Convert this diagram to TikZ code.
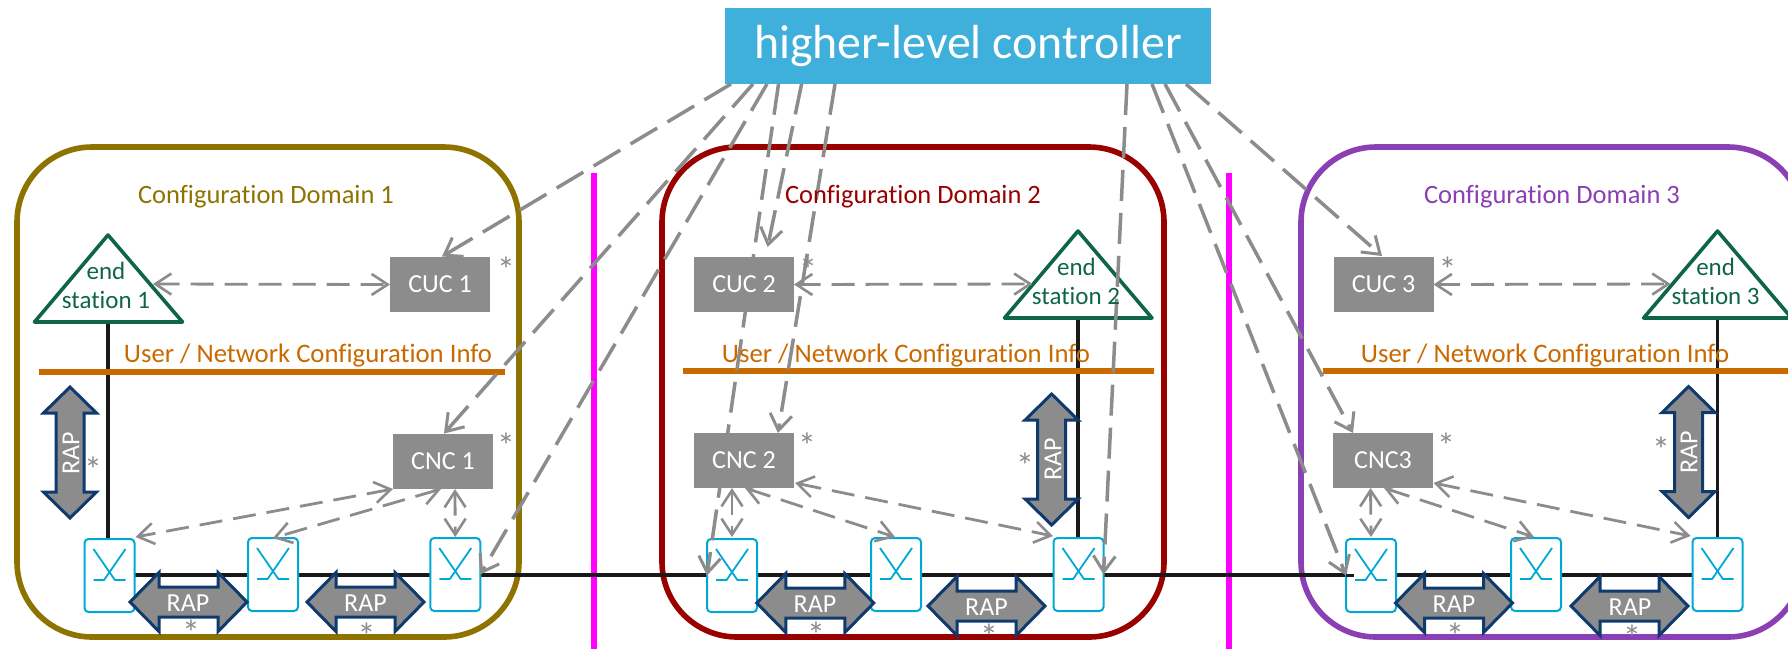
\documentclass[tikz,border=0pt]{standalone}
\usepackage{fontspec}
\setmainfont{Carlito}[Ligatures=NoCommon]
\usetikzlibrary{arrows.meta,calc}
\definecolor{cOlive}{HTML}{8F7300}
\definecolor{cRed}{HTML}{990000}
\definecolor{cPurple}{HTML}{8A3FB5}
\definecolor{cOrange}{HTML}{C96A00}
\definecolor{cGreen}{HTML}{0E6647}
\definecolor{cCyan}{HTML}{00A8D6}
\definecolor{cNavy}{HTML}{0F3A6E}
\definecolor{cGray}{HTML}{8C8C8C}
\definecolor{cBlue}{HTML}{3FAFDB}
\definecolor{cMagenta}{HTML}{FF00FF}
\newcommand{\fs}[1]{\fontsize{#1}{#1}\selectfont}
\tikzset{
  domframe/.style={line width=5.6pt,rounded corners=75pt},
  sepline/.style={cMagenta,line width=5.5pt},
  wire/.style={black!90,line width=3.5pt},
  orangebar/.style={cOrange,line width=6pt},
  station/.style={cGreen,line width=3.6pt,line join=round,fill=white},
  sttext/.style={cGreen,font=\fs{25},align=center,inner sep=0pt},
  swnode/.style={draw=cCyan,line width=2pt,fill=white,rounded corners=4pt,minimum width=50pt,minimum height=73pt,inner sep=0pt,outer sep=0pt},
  swline/.style={cCyan,line width=1.8pt},
  graybox/.style={fill=cGray,text=white,font=\fs{26},minimum width=100pt,minimum height=55pt,inner sep=0pt,outer sep=0pt},
  raparrow/.style={fill=cGray,draw=cNavy,line width=3pt,line join=miter},
  raptext/.style={text=white,font=\fs{26},inner sep=0pt},
  aster/.style={text=cGray,font=\fs{36},inner sep=0pt},
  longlink/.style={cGray,line width=3.5pt,dash pattern=on 31pt off 12pt,-{Straight Barb[length=16pt,width=22pt,line width=3pt]}},
  duallink/.style={cGray,line width=2.8pt,dash pattern=on 23pt off 11pt,{Straight Barb[length=16pt,width=21pt,line width=2.6pt]}-{Straight Barb[length=16pt,width=21pt,line width=2.6pt]}},
  domtext/.style={font=\fs{26.5},inner sep=0pt},
  infotext/.style={cOrange,font=\fs{26.7},inner sep=0pt},
}
% switch: name, centre x, centre y
\newcommand{\swbox}[3]{%
  \node[swnode] (#1) at (#2,#3) {};
  \draw[swline] ($(#1.north)+(-16,10)$) -- ($(#1.north)+(5.4,41)$) -- ($(#1.north)+(16,41)$);
  \draw[swline] ($(#1.north)+(16,10)$) -- ($(#1.north)+(-5.4,41)$) -- ($(#1.north)+(-16,41)$);
}
% RAP double arrow: cx, cy, rotation, half length, head length, head half width, shaft half width
\newcommand{\rapshape}[7]{%
  \draw[raparrow,shift={(#1,#2)},rotate=#3]
    (-#4,0) -- ({-#4+#5},-#6) -- ({-#4+#5},-#7) -- ({#4-#5},-#7) -- ({#4-#5},-#6) -- (#4,0)
    -- ({#4-#5},#6) -- ({#4-#5},#7) -- ({-#4+#5},#7) -- ({-#4+#5},#6) -- cycle;
}
\newcommand{\hrap}[2]{\rapshape{#1}{#2}{0}{58.5}{29}{29.5}{15}}
\newcommand{\vrap}[2]{\rapshape{#1}{#2}{90}{65.5}{26}{26.5}{14}}
\begin{document}
\begin{tikzpicture}[x=1pt,y=-1pt]
\useasboundingbox (0,0) rectangle (1788,649);
\clip (0,0) rectangle (1788,649);
\fill[white] (0,0) rectangle (1788,649);
% domains
\draw[domframe,cOlive] (17,147) rectangle (519,637);
\draw[domframe,cRed] (662,147) rectangle (1164,637);
\draw[domframe,cPurple] (1301,147) rectangle (1803,637);
% separators
\draw[sepline] (594,173) -- (594,649);
\draw[sepline] (1229,173) -- (1229,649);
% triangles' apex and base
\coordinate (t1a) at (108,235); \coordinate (t1l) at (34.5,322); \coordinate (t1r) at (182.5,322);
\coordinate (t2a) at (1078,231); \coordinate (t2l) at (1004.5,318); \coordinate (t2r) at (1152,318);
\coordinate (t3a) at (1717.5,231); \coordinate (t3l) at (1643.6,318); \coordinate (t3r) at (1791.5,318);
\coordinate (wirestart) at (109.5,575);
\coordinate (wireend) at (1717.5,575);
% wires
\draw[wire] (t1a |- t1l) -- (108,539);
\draw[wire] (t2a |- t2l) -- (1078,538);
\draw[wire] (t3a |- t3l) -- (1717.5,538);
\draw[wire] (wirestart) -- (wireend);
% orange bars
\draw[orangebar] (39,372) -- (505,372);
\draw[orangebar] (683,371) -- (1154,371);
\draw[orangebar] (1322.6,371) -- (1788,371);
% triangles
\draw[station] (t1a) -- (t1l) -- (t1r) -- cycle;
\draw[station] (t2a) -- (t2l) -- (t2r) -- cycle;
\draw[station] (t3a) -- (t3l) -- (t3r) -- cycle;
% switches
\swbox{sw11}{109.5}{575.5}
\swbox{sw12}{273}{574.5}
\swbox{sw13}{455.25}{574.5}
\swbox{sw21}{732}{575.5}
\swbox{sw22}{896}{574.5}
\swbox{sw23}{1078.5}{574.5}
\swbox{sw31}{1371}{575.5}
\swbox{sw32}{1536}{574.5}
\swbox{sw33}{1717.5}{574.5}
\draw[wire] (sw31.west) -- +(8,0);
% controller
\node[fill=cBlue,text=white,font=\fs{47.8},minimum width=486pt,minimum height=76pt,inner sep=0pt,outer sep=0pt] (hlc) at (968,46) {\raisebox{-2pt}{higher-level controller}};
% positions of the gray boxes, which are drawn after the links
\coordinate (cuc1pos) at (440,284.5); \coordinate (cnc1pos) at (443,461.5);
\coordinate (cuc2pos) at (744,284.5); \coordinate (cnc2pos) at (744,460.5);
\coordinate (cuc3pos) at (1383.5,284.5); \coordinate (cnc3pos) at (1383,460.5);
% long links
\draw[longlink] ($(hlc.south west)+(6,0)$) -- ($(cuc1pos)+(2,-28)$);
\draw[longlink] ($(hlc.south west)+(28,0)$) -- ($(cnc1pos)+(1,-28)$);
\draw[longlink] ($(hlc.south west)+(42,0)$) -- (sw13.east);
\draw[longlink] ($(hlc.south west)+(53.5,0)$) -- (sw21.west);
\draw[longlink] ($(hlc.south west)+(76.6,0)$) -- ($(cuc2pos)+(23.6,-37.5)$);
\draw[longlink] ($(hlc.south west)+(110,0)$) -- ($(cnc2pos)+(34,-27.5)$);
\draw[longlink] ($(hlc.south east)+(-84,0)$) -- (sw23.east);
\draw[longlink] ($(hlc.south east)+(-59,0)$) -- (sw31.west);
\draw[longlink] ($(hlc.south east)+(-46,0)$) -- ($(cnc3pos)+(-30,-27.5)$);
\draw[longlink] ($(hlc.south east)+(-25,0)$) -- ($(cuc3pos)+(-1.5,-28.5)$);
% gray boxes
\node[graybox] (cuc1) at (cuc1pos) {CUC 1};
\node[graybox] (cnc1) at (cnc1pos) {CNC 1};
\node[graybox] (cuc2) at (cuc2pos) {CUC 2};
\node[graybox] (cnc2) at (cnc2pos) {CNC 2};
\node[graybox] (cuc3) at (cuc3pos) {CUC 3};
\node[graybox] (cnc3) at (cnc3pos) {CNC3};
% dual links
\coordinate (t1p) at (153,284); \coordinate (t2p) at (1032.5,284); \coordinate (t3p) at (1670.6,284);
\draw[duallink] (t1p) -- (cuc1.west);
\draw[duallink] (cuc2.east) -- (t2p);
\draw[duallink] (cuc3.east) -- (t3p);
\draw[duallink] (cnc1.south west) -- ($(sw11.north east)+(1,-2)$);
\draw[duallink] ($(cnc1.south)+(-2,0)$) -- (sw12.north);
\draw[duallink] ($(cnc1.south)+(12,0)$) -- ($(sw13.north)+(0,-1)$);
\draw[duallink] ($(cnc2.south)+(-12,0)$) -- ($(sw21.north)+(0,-2)$);
\draw[duallink] ($(cnc2.south)+(1,0)$) -- ($(sw22.north)+(-1,-1)$);
\draw[duallink] ($(cnc2.south east)+(1,-5)$) -- ($(sw23.north west)+(-0.5,-2)$);
\draw[duallink] ($(cnc3.south)+(-12.5,0)$) -- ($(sw31.north)+(0,-2)$);
\draw[duallink] ($(cnc3.south)+(1,0)$) -- ($(sw32.north)+(-2,-1)$);
\draw[duallink] ($(cnc3.south east)+(0.5,-5)$) -- ($(sw33.north west)+(-2,-2)$);
% RAP arrows
\hrap{188.5}{602}\hrap{365.5}{602}
\hrap{815.3}{603}\hrap{986.5}{606}
\hrap{1454}{603}\hrap{1629.5}{606}
\vrap{70}{452.5}\vrap{1051.6}{459.5}\vrap{1688.6}{452}
% RAP texts
\node[raptext] (r1) at (188,603) {RAP};
\node[raptext] (r2) at (365.5,603) {RAP};
\node[raptext] (r3) at (815,604) {RAP};
\node[raptext] (r4) at (986.5,607) {RAP};
\node[raptext] (r5) at (1454,604) {RAP};
\node[raptext] (r6) at (1630,607) {RAP};
\node[raptext,rotate=90] (r7) at (71,453) {RAP};
\node[raptext,rotate=90] (r8) at (1053,459) {RAP};
\node[raptext,rotate=90] (r9) at (1689,452) {RAP};
% domain titles
\node[domtext,text=cOlive] (d1) at (266,197) {Configuration Domain 1};
\node[domtext,text=cRed] (d2) at (913,197) {Configuration Domain 2};
\node[domtext,text=cPurple] (d3) at (1552,197) {Configuration Domain 3};
% info labels
\node[infotext] (i1) at (308,356) {User / Network Configuration Info};
\node[infotext] (i2) at (906,356) {User / Network Configuration Info};
\node[infotext] (i3) at (1545,356) {User / Network Configuration Info};
% station labels
\node[sttext] (e1) at (106,271) {end};
\node[sttext] (s1) at (106,300) {station 1};
\node[sttext] (e2) at (1076.5,267) {end};
\node[sttext] (s2) at (1076,296) {station 2};
\node[sttext] (e3) at (1715.6,267) {end};
\node[sttext] (s3) at (1715.6,296) {station 3};
% asterisks
\foreach \n/\ax/\ay in {a1/506/270,a2/506/446,a3/93/470,a4/191/633,a5/366.6/636,
  a6/808/270,a7/807/446,a8/1025/466,a9/816/635,a10/989/637,
  a11/1447.5/270,a12/1446/446,a13/1661/450,a14/1455/636,a15/1632/638}
  \node[aster,anchor=center] (\n) at (\ax,\ay) {*};
\end{tikzpicture}
\end{document}
